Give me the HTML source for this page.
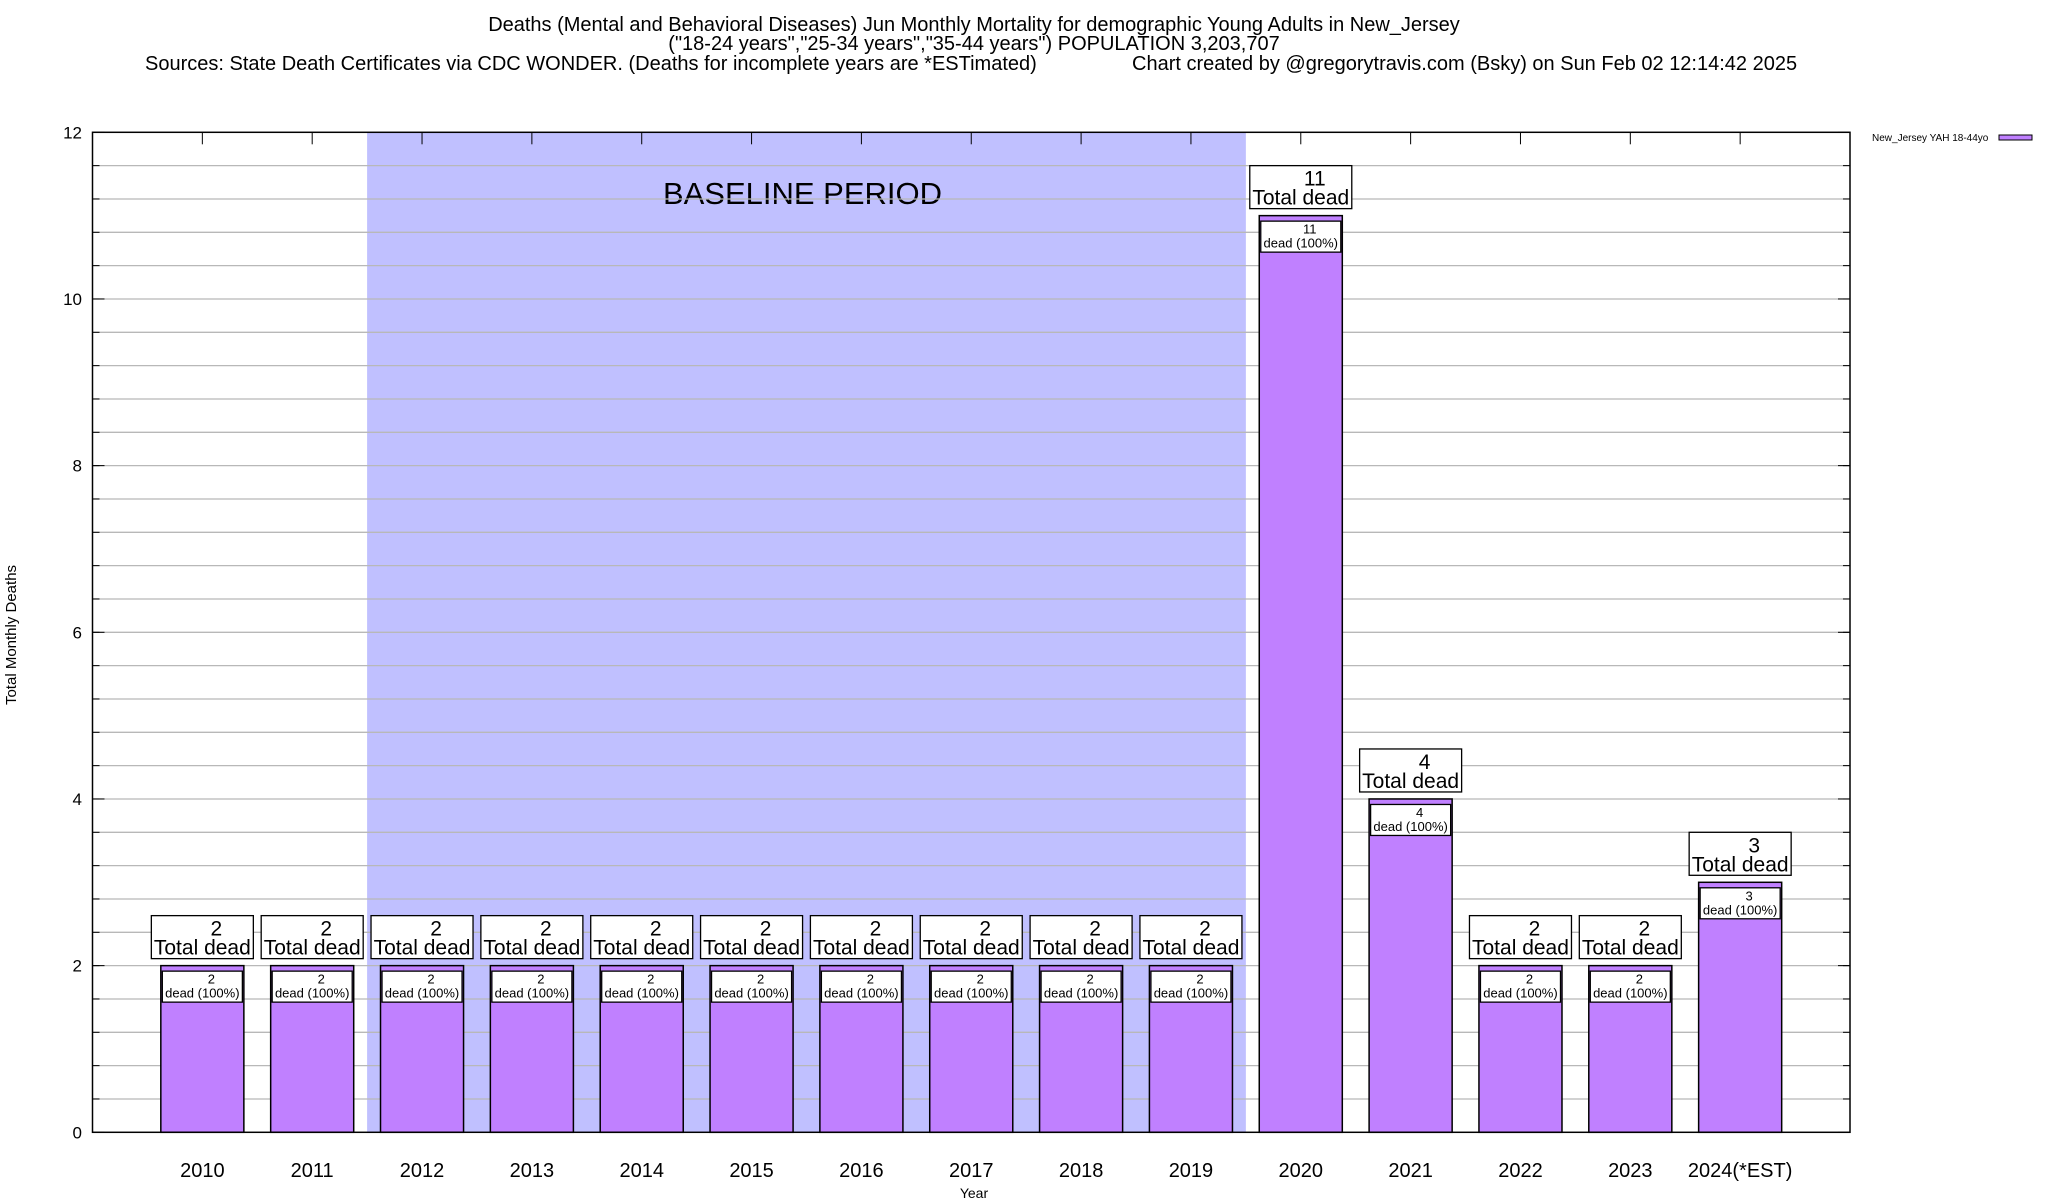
<!DOCTYPE html>
<html><head><meta charset="utf-8">
<style>
html,body{margin:0;padding:0;background:#fff;}
svg{display:block;font-family:"Liberation Sans",Arial,sans-serif;}
</style></head>
<body>
<svg id="chart" width="2048" height="1200" viewBox="0 0 2048 1200">
<g>
<text x="974" y="31" font-size="20" text-anchor="middle">Deaths (Mental and Behavioral Diseases) Jun Monthly Mortality for demographic Young Adults in New_Jersey</text>
<text x="974" y="50" font-size="20" text-anchor="middle">("18-24 years","25-34 years","35-44 years") POPULATION 3,203,707</text>
<text x="145" y="70" font-size="20">Sources: State Death Certificates via CDC WONDER. (Deaths for incomplete years are *ESTimated)</text>
<text x="1132" y="70" font-size="20">Chart created by @gregorytravis.com (Bsky) on Sun Feb 02 12:14:42 2025</text>
</g>
<g id="plot"></g>
<text x="16" y="635" font-size="15" text-anchor="middle" transform="rotate(-90 16 635)">Total Monthly Deaths</text>
<text x="974" y="1198" font-size="14" text-anchor="middle">Year</text>
<g>
<text x="1872" y="141" font-size="10">New_Jersey YAH 18-44yo</text>
<rect x="1999" y="135" width="33" height="5" fill="#c080ff" stroke="#000" stroke-width="1"/>
</g>
</svg>
<script>
const categories = ["2010","2011","2012","2013","2014","2015","2016","2017","2018","2019","2020","2021","2022","2023","2024(*EST)"];
const deaths = [2,2,2,2,2,2,2,2,2,2,11,4,2,2,3];
const yTicks = [0,2,4,6,8,10,12];
const baselineStart = 1.5, baselineEnd = 9.5;

const L=92.5, R=1850, T=132.3, B=1132.3;
const xMin=-1, xMax=15, yMax=12;
const xs = v => L + (v - xMin) / (xMax - xMin) * (R - L);
const ys = v => B - v / yMax * (B - T);
const NS="http://www.w3.org/2000/svg";
const plot=document.getElementById('plot');
function mk(tag, attrs, parent, text){
  const e=document.createElementNS(NS,tag);
  for(const k in attrs) e.setAttribute(k,attrs[k]);
  if(text!==undefined) e.textContent=text;
  (parent||plot).appendChild(e);
  return e;
}
const shade=mk('rect',{x:xs(baselineStart),y:T,width:xs(baselineEnd)-xs(baselineStart),height:B-T,fill:'#c0c0ff'});


const bl=mk('text',{x:(xs(baselineStart)+xs(baselineEnd))/2-4,y:204,'font-size':31,'text-anchor':'middle'},plot,'BASELINE PERIOD');


for(let k=1;k<30;k++){
  const v=k*0.4;
  const g=mk('line',{x1:L,x2:R,y1:ys(v),y2:ys(v),stroke:'#b8b8b8','stroke-width':1.3});
  
  
  mk('line',{x1:L,x2:L+7,y1:ys(v),y2:ys(v),stroke:'#000'});
  mk('line',{x1:R,x2:R-7,y1:ys(v),y2:ys(v),stroke:'#000'});
}
yTicks.forEach(t=>{
  const lab=mk('text',{x:82,y:ys(t)+6,'font-size':17,'text-anchor':'end'},plot,String(t));
  
  
  mk('line',{x1:L,x2:L+12,y1:ys(t),y2:ys(t),stroke:'#000'});
  mk('line',{x1:R,x2:R-12,y1:ys(t),y2:ys(t),stroke:'#000'});
});
const bw=0.756;
categories.forEach((c,i)=>{
  const cx=xs(i), v=deaths[i];
  mk('line',{x1:cx,x2:cx,y1:T,y2:T+12,stroke:'#000'});
  const bar=mk('rect',{x:xs(i-bw/2),y:ys(v),width:xs(i+bw/2)-xs(i-bw/2),height:ys(0)-ys(v),fill:'#c080ff',stroke:'#000','stroke-width':1.5});
  
  
  const by=ys(v);
  const inner=mk('rect',{x:xs(i-bw/2)+1.5,y:by+5.5,width:xs(i+bw/2)-xs(i-bw/2)-3,height:31,fill:'#fff',stroke:'#000','stroke-width':1.3});
  
  
  mk('text',{x:cx+9,y:by+18,'font-size':13,'text-anchor':'middle'},plot,String(v));
  mk('text',{x:cx,y:by+32,'font-size':13,'text-anchor':'middle'},plot,'dead (100%)');
  const tb=mk('rect',{x:cx-51,y:by-50,width:102,height:43,fill:'#fff',stroke:'#000','stroke-width':1.3});
  
  
  mk('text',{x:cx+14,y:by-30,'font-size':21,'text-anchor':'middle'},plot,String(v));
  mk('text',{x:cx,y:by-11,'font-size':21,'text-anchor':'middle'},plot,'Total dead');
  const xl=mk('text',{x:cx,y:1177,'font-size':20,'text-anchor':'middle'},plot,c);
  
  
});
const frame=mk('rect',{x:L,y:T,width:R-L,height:B-T,fill:'none',stroke:'#000','stroke-width':1.5});


</script>
</body></html>
